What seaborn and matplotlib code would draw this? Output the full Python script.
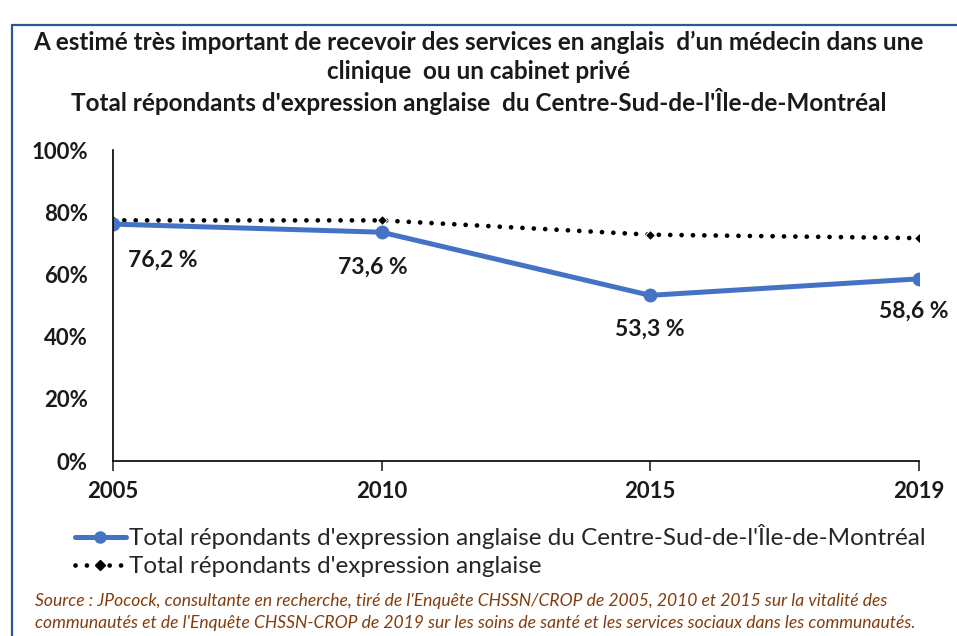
import pandas as pd
import numpy as np
import matplotlib
matplotlib.use('Agg')
import matplotlib.pyplot as plt
import seaborn as sns
from matplotlib.patches import Rectangle
from matplotlib.lines import Line2D

# données
annees = ['2005', '2010', '2015', '2019']
centre_sud = [76.2, 73.6, 53.3, 58.6]
total_anglo = [77.4, 77.4, 72.8, 71.7]
etiquettes = ['76,2 %', '73,6 %', '53,3 %', '58,6 %']

serie_1 = "Total répondants d'expression anglaise du Centre-Sud-de-l'Île-de-Montréal"
serie_2 = "Total répondants d'expression anglaise"

df = pd.DataFrame({
    'annee': annees * 2,
    'valeur': centre_sud + total_anglo,
    'serie': [serie_1] * 4 + [serie_2] * 4,
})

sns.set_style('white')
plt.rcParams['font.family'] = ['Lato', 'DejaVu Sans']

bleu = '#4472C4'
pointille = (0, (0.01, 2.4))

fig = plt.figure(figsize=(9.57, 6.36), dpi=100)
ax = fig.add_axes([0.118, 0.275, 0.842, 0.489])

sns.lineplot(data=df[df['serie'] == serie_2], x='annee', y='valeur', ax=ax,
             color='black', linestyle=pointille, linewidth=3.4,
             marker='D', markersize=5.5, dash_capstyle='round', legend=False)
sns.lineplot(data=df[df['serie'] == serie_1], x='annee', y='valeur', ax=ax,
             color=bleu, linewidth=3.6, marker='o', markersize=10,
             markeredgewidth=0, legend=False)

# étiquettes de données
decalages = [(36, -26), (-6, -25), (0, -24.5), (-3.6, -23)]
for i, (txt, d) in enumerate(zip(etiquettes, decalages)):
    ax.annotate(txt, (i, centre_sud[i]), xytext=d, textcoords='offset points',
                ha='center', va='center', fontsize=16.5, fontweight='bold',
                color='#1a1a1a')

ax.set_ylim(0, 100)
ax.set_xlim(0, 3)
ax.set_yticks(np.arange(0, 101, 20))
ax.set_yticklabels([f'{v}%' for v in range(0, 101, 20)])
ax.set_xlabel('')
ax.set_ylabel('')
ax.tick_params(axis='y', length=0, pad=18, labelsize=16)
ax.tick_params(axis='x', length=7, width=1.2, direction='out', pad=7,
               labelsize=16, bottom=True)
for lab in ax.get_xticklabels() + ax.get_yticklabels():
    lab.set_fontweight('bold')
    lab.set_color('#1a1a1a')
for s in ['top', 'right']:
    ax.spines[s].set_visible(False)
for s in ['left', 'bottom']:
    ax.spines[s].set_color('black')
    ax.spines[s].set_linewidth(1.2)

# titre
fig.text(0.5, 0.934, "A estimé très important de recevoir des services en anglais  d’un médecin dans une",
         ha='center', va='center', fontsize=17.5, fontweight='bold', color='#1a1a1a')
fig.text(0.5, 0.887, "clinique  ou un cabinet privé", ha='center', va='center',
         fontsize=17.5, fontweight='bold', color='#1a1a1a')
fig.text(0.5, 0.840, "Total répondants d'expression anglaise  du Centre-Sud-de-l'Île-de-Montréal",
         ha='center', va='center', fontsize=17.5, fontweight='bold', color='#1a1a1a')

# légende
poignees = [
    Line2D([], [], color=bleu, linewidth=3.6, marker='o', markersize=8),
    Line2D([], [], color='black', linestyle=pointille, linewidth=3.4,
           marker='D', markersize=5.5, dash_capstyle='round'),
]
fig.legend(poignees, [serie_1, serie_2], loc='upper left',
           bbox_to_anchor=(0.078, 0.176), frameon=False, fontsize=17.5,
           handlelength=2.1, handletextpad=0.15, labelspacing=0.3,
           borderaxespad=0, borderpad=0)

# source
fig.text(0.037, 0.055, "Source : JPocock, consultante en recherche, tiré de l'Enquête CHSSN/CROP de 2005, 2010 et 2015 sur la vitalité des",
         ha='left', va='center', fontsize=12.6, style='italic', color='#843C0C')
fig.text(0.037, 0.020, "communautés et de l'Enquête CHSSN-CROP de 2019 sur les soins de santé et les services sociaux dans les communautés.",
         ha='left', va='center', fontsize=12.6, style='italic', color='#843C0C')

# cadre
fig.patches.append(Rectangle((12 / 957, -0.2), 1.2, 1.2 - 25 / 636,
                             transform=fig.transFigure, fill=False,
                             edgecolor='#2F5597', linewidth=1.6))

fig.savefig('out.png', dpi=100)
